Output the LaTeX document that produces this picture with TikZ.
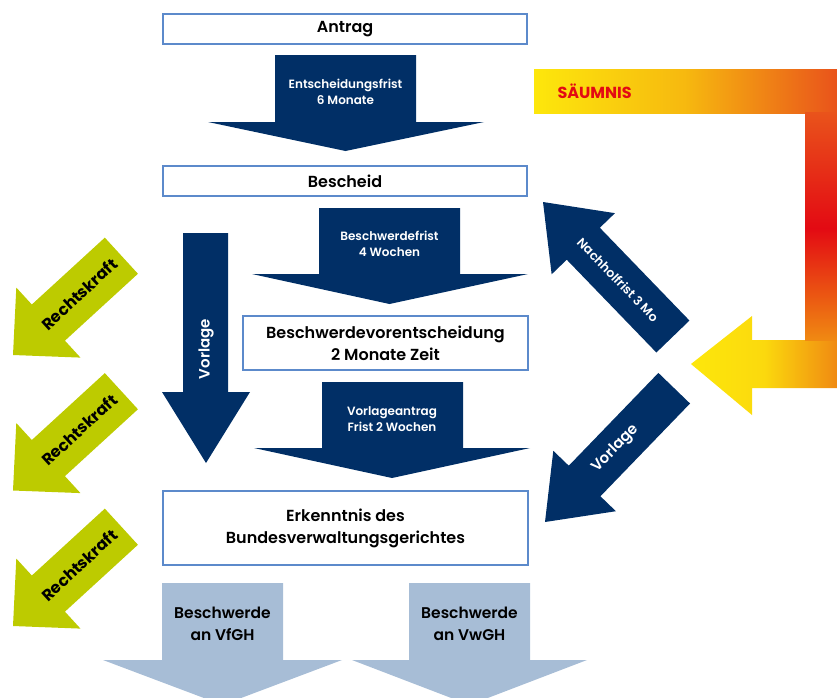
\documentclass[tikz,border=0pt]{standalone}
\usepackage{fontspec}
\setmainfont{Poppins}[UprightFont={* SemiBold}, BoldFont={* Bold}]
\usetikzlibrary{calc}
\definecolor{navy}{HTML}{012F66}
\definecolor{boxblue}{HTML}{5C8ACB}
\definecolor{lightblue}{HTML}{A7BDD6}
\definecolor{lime}{HTML}{BDCB00}
\definecolor{sy}{HTML}{FDE70C}
\definecolor{so}{HTML}{F08A12}
\definecolor{sor}{HTML}{E9531B}
\definecolor{sred}{HTML}{E30A13}
\tikzset{
  box/.style={draw=boxblue, line width=2pt, fill=white, align=center, inner sep=0pt,
    font=\fontsize{16}{22}\selectfont},
  navyarrow/.style={fill=navy},
  palearrow/.style={fill=lightblue},
  greenarrow/.style={fill=lime},
  alabel/.style={text=white, align=center, font=\fontsize{12}{16}\selectfont},
  blabel/.style={text=black, align=center, font=\fontsize{15.5}{22}\selectfont},
  rlabel/.style={text=white, font=\fontsize{15}{16}\selectfont},
  glabel/.style={text=black, font=\fontsize{16}{16}\selectfont\bfseries},
}
\begin{document}
\begin{tikzpicture}[x=1pt,y=-1pt]
\useasboundingbox (0,0) rectangle (837,697);
\clip (0,0) rectangle (837,697);

% boxes
\node[box, minimum width=364pt, minimum height=30pt] (antrag) at (345,29) {Antrag};
\node[box, minimum width=364pt, minimum height=30pt] (bescheid) at (345,181) {Bescheid};
\node[box, minimum width=285pt, minimum height=54pt] (bve) at (385.5,343) {Beschwerdevorentscheidung\\2 Monate Zeit};
\node[box, minimum width=365pt, minimum height=74pt] (erk) at (345.5,528) {Erkenntnis des\\Bundesverwaltungsgerichtes};

% vertical navy arrows
\fill[navyarrow] (275,55)--(416,55)--(416,122)--(484,122)--(345.5,151)--(208,122)--(275,122)--cycle;
\node[alabel] (frist1) at (345.5,92) {Entscheidungsfrist\\6 Monate};
\fill[navyarrow] (319,208)--(460,208)--(460,274)--(528,274)--(389.5,304)--(252,274)--(319,274)--cycle;
\node[alabel] (frist2) at (389.5,244) {Beschwerdefrist\\4 Wochen};
\fill[navyarrow] (322,382)--(463,382)--(463,448)--(530,448)--(392,478)--(254,448)--(322,448)--cycle;
\node[alabel] (frist3) at (392,419) {Vorlageantrag\\Frist 2 Wochen};
\fill[navyarrow] (183,233)--(228,233)--(228,392)--(250,392)--(206,463)--(162,392)--(183,392)--cycle;
\node[rlabel, rotate=90] (vorlage1) at (206,349) {Vorlage};

% diagonal navy arrows
\begin{scope}[shift={(543,202)}, rotate=134]
  \fill[navyarrow] (0,0)--(-58,-44)--(-58,-23)--(-187,-23)--(-187,23)--(-58,23)--(-58,44)--cycle;
  \node[alabel, font=\fontsize{12.5}{14}\selectfont, rotate=180, transform shape] (nachhol) at (-108,0) {Nachholfrist 3 Mo};
\end{scope}
\begin{scope}[shift={(545,522)}, rotate=226]
  \fill[navyarrow] (0,0)--(-57,-43.5)--(-57,-22)--(-186,-22)--(-186,22)--(-57,22)--(-57,43.5)--cycle;
  \node[rlabel, rotate=180, transform shape] (vorlage2) at (-102,0) {Vorlage};
\end{scope}

% green arrows
\foreach \dy/\nm in {0/rk1,135.5/rk2,271/rk3}{
\begin{scope}[shift={(13,355+\dy)}, rotate=222.5]
  \fill[greenarrow] (0,0)--(-48,-47.5)--(-48,-24.5)--(-147,-24.5)--(-147,24.5)--(-48,24.5)--(-48,47.5)--cycle;
  \node[glabel, rotate=180, transform shape] (\nm) at (-90,0) {Rechtskraft};
\end{scope}
}

% bottom pale arrows
\fill[palearrow] (162,583)--(283,583)--(283,660)--(342,660)--(222.5,705)--(103,660)--(162,660)--cycle;
\node[blabel] (vfgh) at (222.5,624) {Beschwerde\\an VfGH};
\fill[palearrow] (409,583)--(530,583)--(530,660)--(587,660)--(469.5,705)--(352,660)--(409,660)--cycle;
\node[blabel] (vwgh) at (469.5,624) {Beschwerde\\an VwGH};

% Saeumnis arrow
\shade[left color=sy, right color=sor, middle color=sy!50!so] (534,69) rectangle (837,113);
\shade[left color=sy, right color=so, middle color=sy!85!so] (837,340)--(752,340)--(752,316)--(691,364)--(752,415)--(752,388)--(837,388)--cycle;
\shade[top color=sor, bottom color=sred] (805,112.5) rectangle (837,228.5);
\shade[top color=sred, bottom color=so] (805,228) rectangle (837,340.5);
\node[text=sred, font=\fontsize{16}{16}\selectfont\bfseries, anchor=west] (saeumnis) at (554,91) {SÄUMNIS};
\end{tikzpicture}
\end{document}
